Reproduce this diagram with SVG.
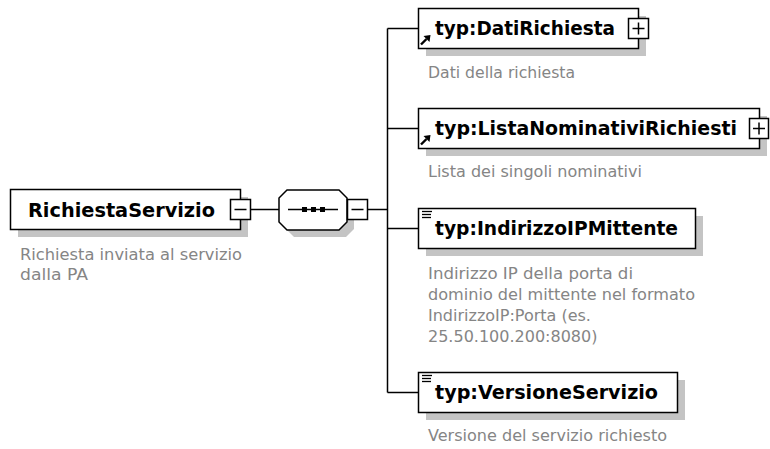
<svg xmlns="http://www.w3.org/2000/svg" width="770" height="449" viewBox="0 0 770 449">
<style>
.box{fill:#fff;stroke:#000;stroke-width:1.5}
.tog{fill:#fff;stroke:#000;stroke-width:1.5}
.shadow{fill:#c4c4c4}
.title{font-family:"DejaVu Sans",Verdana,sans-serif;font-weight:bold;font-size:19px;fill:#000}
.desc{font-family:"DejaVu Sans",Verdana,sans-serif;font-size:16px;fill:#858585}
.line{stroke:#000;stroke-width:1.5;fill:none}
</style>
<defs>
<g id="refIcon">
<path d="M1,9.5 L6.5,4" stroke="#000" stroke-width="2.4" fill="none"/>
<path d="M3.5,1 L10.5,0 L9.5,7 Z" fill="#000"/>
</g>
<g id="simpleIcon" stroke="#000" stroke-width="1.3">
<line x1="0" y1="0.5" x2="10" y2="0.5"/>
<line x1="0" y1="3.5" x2="9" y2="3.5"/>
<line x1="0" y1="6.5" x2="9" y2="6.5"/>
</g>
</defs>

<g id="connectors">
<line class="line" x1="250.5" y1="209.5" x2="279" y2="209.5"/>
<line class="line" x1="367.5" y1="209.5" x2="387.5" y2="209.5"/>
<line class="line" x1="387.5" y1="28.5" x2="387.5" y2="392.5"/>
<line class="line" x1="387.5" y1="28.5" x2="418.5" y2="28.5"/>
<line class="line" x1="387.5" y1="128.5" x2="418.5" y2="128.5"/>
<line class="line" x1="387.5" y1="228.5" x2="418.5" y2="228.5"/>
<line class="line" x1="387.5" y1="392.5" x2="418.5" y2="392.5"/>
</g>

<g id="RichiestaServizio">
<rect class="shadow" x="18" y="197" width="230" height="40"/>
<rect class="box" x="10.5" y="189.5" width="230" height="40"/>
<text class="title" x="28" y="217" textLength="187" lengthAdjust="spacingAndGlyphs">RichiestaServizio</text>
<rect class="tog" x="230.5" y="199.5" width="20" height="20"/>
<line class="line" x1="234.5" y1="209.5" x2="246.5" y2="209.5"/>
<text class="desc" x="20" y="260" textLength="222" lengthAdjust="spacingAndGlyphs">Richiesta inviata al servizio</text>
<text class="desc" x="20" y="280" textLength="68" lengthAdjust="spacingAndGlyphs">dalla PA</text>
</g>

<g id="sequence">
<polygon class="shadow" points="294,197 346,197 354,205 354,229 346,237 294,237 286,229 286,205"/>
<polygon class="box" points="287,190 339,190 347,198 347,222 339,230 287,230 279,222 279,198"/>
<line class="line" x1="288" y1="209.5" x2="338" y2="209.5"/>
<rect x="302" y="207" width="5" height="5" fill="#000"/>
<rect x="311" y="207" width="5" height="5" fill="#000"/>
<rect x="320" y="207" width="5" height="5" fill="#000"/>
<rect class="tog" x="347.5" y="199.5" width="20" height="20"/>
<line class="line" x1="351.5" y1="209.5" x2="363.5" y2="209.5"/>
</g>

<g id="DatiRichiesta">
<rect class="shadow" x="426" y="16" width="220" height="40"/>
<rect class="box" x="418.5" y="8.5" width="220" height="40"/>
<use href="#refIcon" x="420" y="35"/>
<text class="title" x="435" y="35" textLength="180" lengthAdjust="spacingAndGlyphs">typ:DatiRichiesta</text>
<rect class="tog" x="628.5" y="18.5" width="20" height="20"/>
<line class="line" x1="632.5" y1="28.5" x2="644.5" y2="28.5"/>
<line class="line" x1="638.5" y1="22.5" x2="638.5" y2="34.5"/>
<text class="desc" x="428" y="78" textLength="147" lengthAdjust="spacingAndGlyphs">Dati della richiesta</text>
</g>

<g id="ListaNominativiRichiesti">
<rect class="shadow" x="426" y="116" width="341" height="40"/>
<rect class="box" x="418.5" y="108.5" width="341" height="40"/>
<use href="#refIcon" x="420" y="135"/>
<text class="title" x="435" y="135" textLength="302" lengthAdjust="spacingAndGlyphs">typ:ListaNominativiRichiesti</text>
<rect class="tog" x="749.5" y="118.5" width="19" height="20"/>
<line class="line" x1="753" y1="128.5" x2="765" y2="128.5"/>
<line class="line" x1="759" y1="122.5" x2="759" y2="134.5"/>
<text class="desc" x="428" y="177" textLength="214" lengthAdjust="spacingAndGlyphs">Lista dei singoli nominativi</text>
</g>

<g id="IndirizzoIPMittente">
<rect class="shadow" x="426" y="216" width="277" height="40"/>
<rect class="box" x="418.5" y="208.5" width="277" height="40"/>
<use href="#simpleIcon" x="422" y="211"/>
<text class="title" x="435" y="235" textLength="243" lengthAdjust="spacingAndGlyphs">typ:IndirizzoIPMittente</text>
<text class="desc" x="428" y="279" textLength="205" lengthAdjust="spacingAndGlyphs">Indirizzo IP della porta di</text>
<text class="desc" x="428" y="300" textLength="267" lengthAdjust="spacingAndGlyphs">dominio del mittente nel formato</text>
<text class="desc" x="428" y="321">IndirizzoIP:Porta (es.</text>
<text class="desc" x="428" y="342">25.50.100.200:8080)</text>
</g>

<g id="VersioneServizio">
<rect class="shadow" x="426" y="380" width="259" height="40"/>
<rect class="box" x="418.5" y="372.5" width="259" height="40"/>
<use href="#simpleIcon" x="422" y="375"/>
<text class="title" x="435" y="399" textLength="223" lengthAdjust="spacingAndGlyphs">typ:VersioneServizio</text>
<text class="desc" x="428" y="441" textLength="239" lengthAdjust="spacingAndGlyphs">Versione del servizio richiesto</text>
</g>
</svg>
